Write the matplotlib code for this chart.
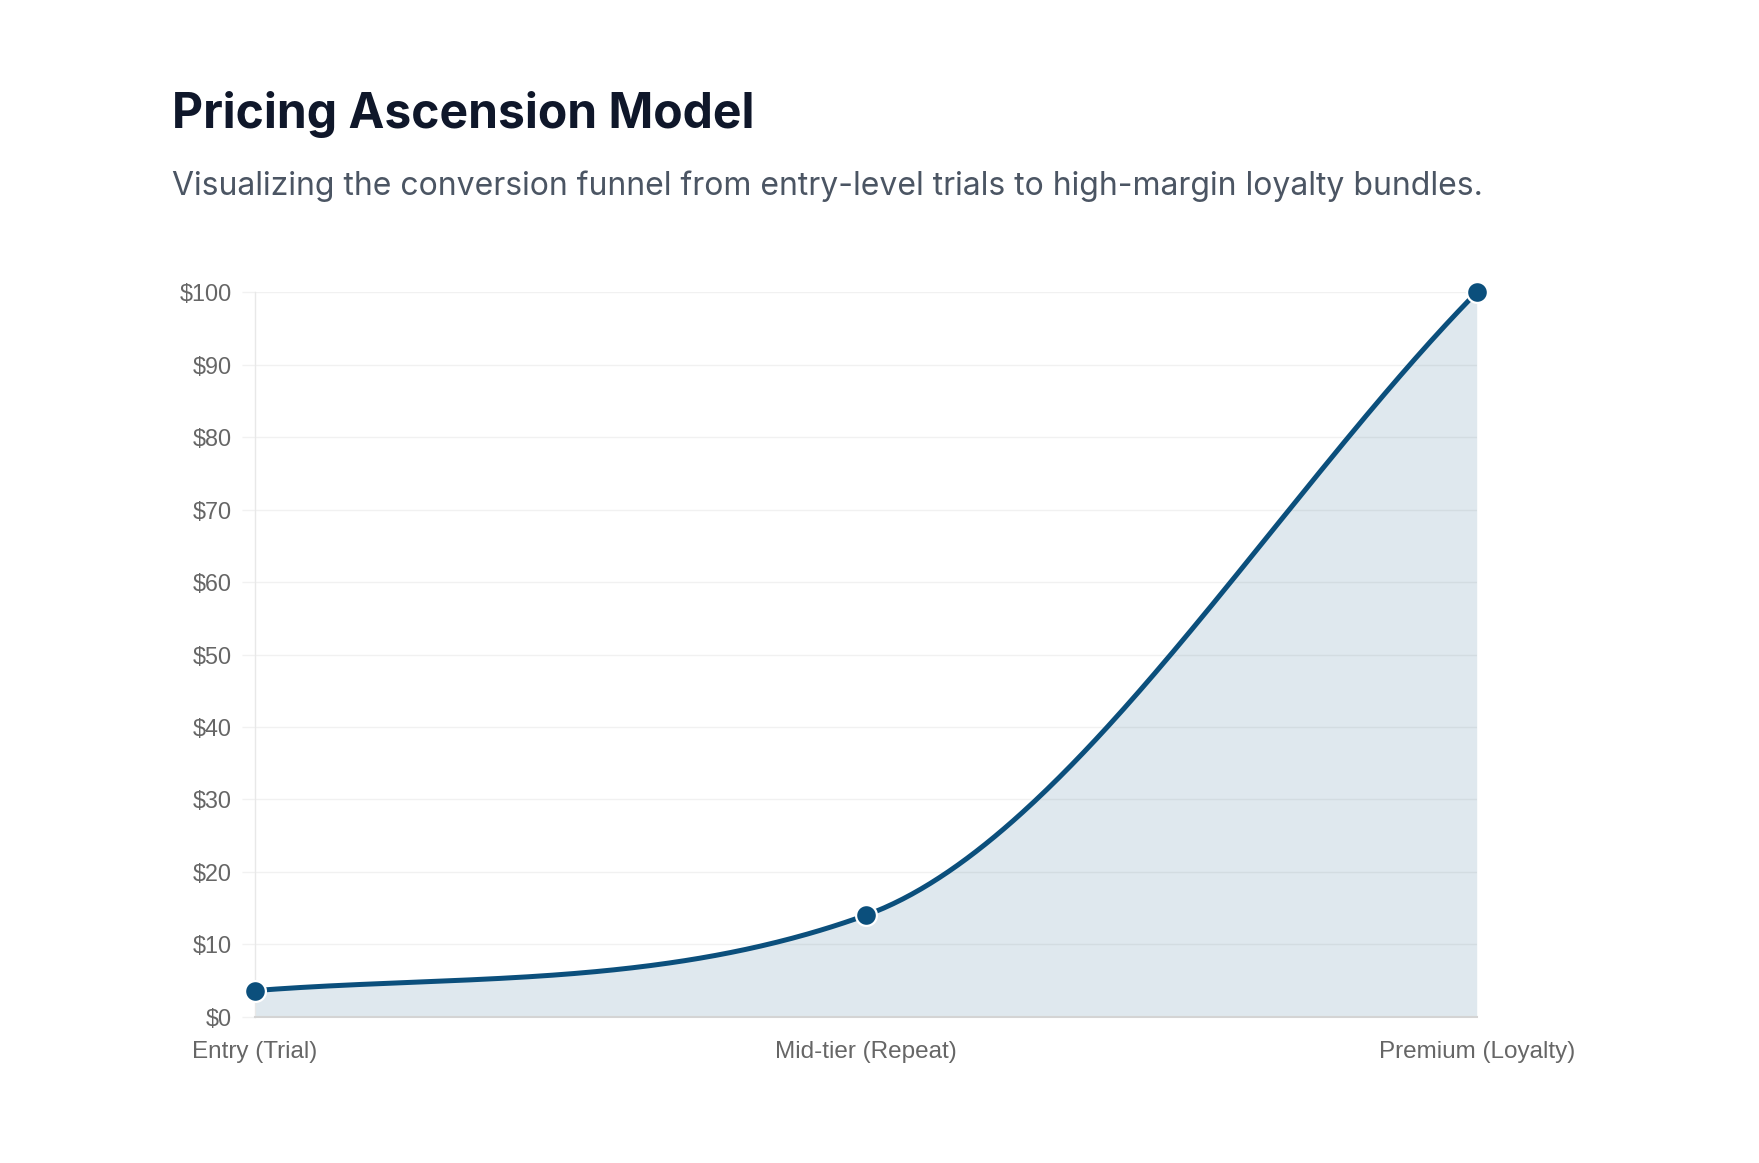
import numpy as np
import matplotlib
matplotlib.use("Agg")
import matplotlib.pyplot as plt

# ---- data ----
categories = ["Entry (Trial)", "Mid-tier (Repeat)", "Premium (Loyalty)"]
prices = [3.6, 14.0, 100.0]
y_ticks = [0, 10, 20, 30, 40, 50, 60, 70, 80, 90, 100]
y_tick_labels = ["$" + str(v) for v in y_ticks]
title = "Pricing Ascension Model"
subtitle = "Visualizing the conversion funnel from entry-level trials to high-margin loyalty bundles."

LINE = "#0b4f7c"
W, H = 1759, 1163
fig = plt.figure(figsize=(W / 100, H / 100), dpi=100)
fig.patch.set_facecolor("white")

ax_l, ax_r, ax_b, ax_t = 254.6, 1476.7, 1016.7, 292.3
ax = fig.add_axes([ax_l / W, 1 - ax_b / H, (ax_r - ax_l) / W, (ax_b - ax_t) / H])
x = np.arange(len(categories))
ax.set_xlim(0, len(categories) - 1)
ax.set_ylim(0, 100)

# ---- monotone cubic interpolation (computed in display space) ----
pts = ax.transData.transform(np.column_stack([x, prices]))
px, py = pts[:, 0], pts[:, 1]
n = len(px)
delta = np.diff(py) / np.diff(px)
m = np.zeros(n)
m[0] = delta[0]
m[-1] = delta[-1]
for i in range(1, n - 1):
    m[i] = 0 if delta[i - 1] * delta[i] <= 0 else (delta[i - 1] + delta[i]) / 2
for i in range(n - 1):
    if delta[i] == 0:
        m[i] = m[i + 1] = 0
        continue
    a = m[i] / delta[i]
    b = m[i + 1] / delta[i]
    tau = a * a + b * b
    if tau > 9:
        k = 3 / np.sqrt(tau)
        m[i] = k * a * delta[i]
        m[i + 1] = k * b * delta[i]
seg = []
tt = np.linspace(0, 1, 200)
for i in range(n - 1):
    dx = (px[i + 1] - px[i]) / 3
    P0 = np.array([px[i], py[i]])
    P1 = np.array([px[i] + dx, py[i] + m[i] * dx])
    P2 = np.array([px[i + 1] - dx, py[i + 1] - m[i + 1] * dx])
    P3 = np.array([px[i + 1], py[i + 1]])
    c = ((1 - tt) ** 3)[:, None] * P0 + (3 * (1 - tt) ** 2 * tt)[:, None] * P1 \
        + (3 * (1 - tt) * tt ** 2)[:, None] * P2 + (tt ** 3)[:, None] * P3
    seg.append(c if i == 0 else c[1:])
curve = ax.transData.inverted().transform(np.vstack(seg))
cx, cy = curve[:, 0], curve[:, 1]

ax.fill_between(cx, 0, cy, color=LINE, alpha=0.13, linewidth=0, zorder=1)
ax.plot(cx, cy, color=LINE, lw=3.6, solid_capstyle="round", zorder=3)
ax.plot(x, prices, "o", ms=15, mfc=LINE, mec="white", mew=1.6, zorder=4, clip_on=False)

# ---- axes styling ----
ax.set_yticks(y_ticks)
ax.set_yticklabels(y_tick_labels)
ax.set_xticks(x)
ax.set_xticklabels(categories)
ax.grid(axis="y", color="#f1f1f1", lw=1.0, zorder=0)
ax.grid(axis="x", visible=False)
ax.tick_params(axis="y", length=9.4, width=1.0, color="#f1f1f1", pad=7, labelsize=16.8, labelcolor="#666666")
ax.tick_params(axis="x", length=0, pad=17.5, labelsize=17.5, labelcolor="#666666")
for lab in ax.get_xticklabels() + ax.get_yticklabels():
    lab.set_fontfamily("Liberation Sans")
for s in ["top", "right"]:
    ax.spines[s].set_visible(False)
ax.spines["left"].set_color("#e8e8e8")
ax.spines["left"].set_linewidth(1.0)
ax.spines["bottom"].set_color("#d4d4d4")
ax.spines["bottom"].set_linewidth(1.5)
ax.set_axisbelow(True)

# ---- titles ----
fig.text(171.6 / W, 1 - 128.3 / H, title, fontsize=34.6, fontweight="bold",
         family="Inter", color="#0f172a", ha="left", va="baseline")
fig.text(171.6 / W, 1 - 195 / H, subtitle, fontsize=23, family="Inter",
         color="#4b5563", ha="left", va="baseline")

fig.savefig("out.png", dpi=100, facecolor="white")
